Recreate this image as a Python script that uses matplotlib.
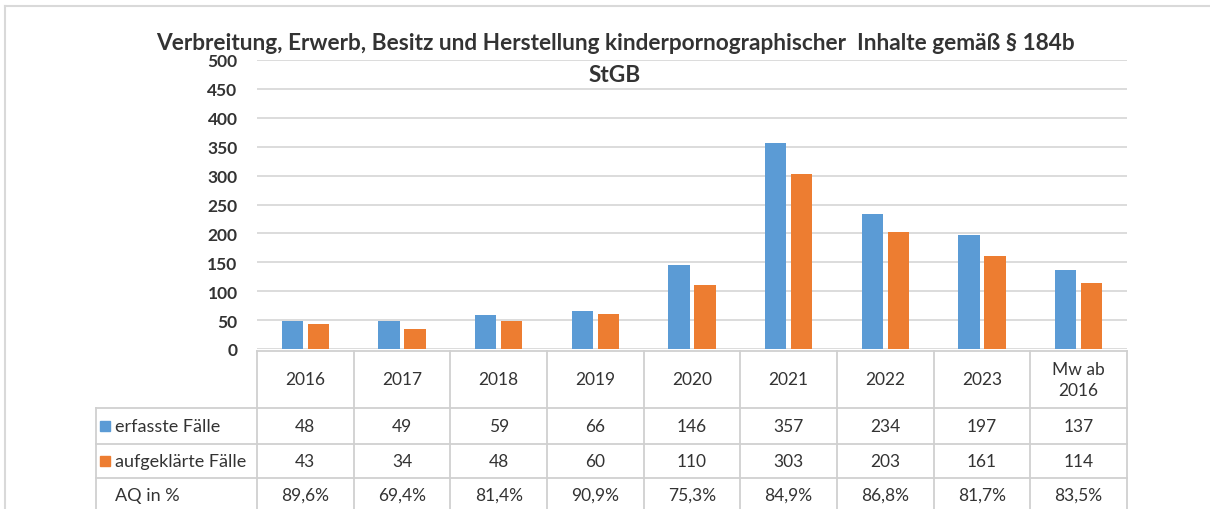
import matplotlib
matplotlib.use("Agg")
import matplotlib.pyplot as plt
from matplotlib.lines import Line2D
from matplotlib.patches import Rectangle

# data
kategorien = ["2016", "2017", "2018", "2019", "2020", "2021", "2022", "2023", "Mw ab\n2016"]
erfasst = [48, 49, 59, 66, 146, 357, 234, 197, 137]
aufgeklaert = [43, 34, 48, 60, 110, 303, 203, 161, 114]
aq = ["89,6%", "69,4%", "81,4%", "90,9%", "75,3%", "84,9%", "86,8%", "81,7%", "83,5%"]
serien = ["erfasste Fälle", "aufgeklärte Fälle"]
titel = ["Verbreitung, Erwerb, Besitz und Herstellung kinderpornographischer  Inhalte gemäß § 184b",
         "StGB"]

BLAU = "#5B9BD5"
ORANGE = "#ED7D31"
GRAU = "#D9D9D9"
TEXT = "#333333"

plt.rcParams["font.family"] = ["Lato", "DejaVu Sans"]

W, H = 1210, 510
fig = plt.figure(figsize=(W / 100, H / 100), dpi=100)

# outer frame of the excel chart
fig.add_artist(Line2D([5 / W, 1], [1 - 7 / H, 1 - 7 / H], color=GRAU, lw=1.5))
fig.add_artist(Line2D([5 / W, 5 / W], [0, 1 - 7 / H], color=GRAU, lw=1.5))

# main bar axes (pixel layout from the reference)
x0, x1 = 257, 1127
y0, y1 = 350, 61
ax = fig.add_axes([x0 / W, 1 - y0 / H, (x1 - x0) / W, (y0 - y1) / H])
n = len(kategorien)
xs = list(range(n))
bw = 0.22
ax.bar([x - 0.135 for x in xs], erfasst, bw, color=BLAU, zorder=3)
ax.bar([x + 0.135 for x in xs], aufgeklaert, bw, color=ORANGE, zorder=3)
ax.set_xlim(-0.5, n - 0.5)
ax.set_ylim(0, 500)
ax.set_yticks(range(0, 501, 50))
ax.set_xticks([])
ax.grid(axis="y", color=GRAU, lw=1.3)
ax.set_axisbelow(True)
for s in ax.spines.values():
    s.set_visible(False)
ax.tick_params(axis="y", length=0, pad=14, labelsize=12.5, labelcolor=TEXT)
for lab in ax.get_yticklabels():
    lab.set_fontweight("bold")

# title (two lines as in the excel chart)
fig.text(615 / W, 1 - 44 / H, titel[0], ha="center", va="center", fontsize=16.3,
         fontweight="bold", color=TEXT, zorder=5)
fig.text(615 / W, 1 - 75 / H, titel[1], ha="center", va="center", fontsize=16.3,
         fontweight="bold", color=TEXT, zorder=5)

# data table below, y in pixel units
t_top, t_bot = 352, 513
tab = fig.add_axes([x0 / W, 1 - t_bot / H, (x1 - x0) / W, (t_bot - t_top) / H])
tab.set_xlim(-0.5, n - 0.5)
tab.set_ylim(t_bot, t_top)
tab.axis("off")
px = (x1 - x0) / n
links = -0.5 - (x0 - 96) / px
zeilen = [352, 409, 445, 479, 513]
lk = dict(color="#D0D0D0", lw=1.3, clip_on=False)
tab.plot([-0.5, n - 0.5], [zeilen[0]] * 2, **lk)
for y in zeilen[1:]:
    tab.plot([links, n - 0.5], [y, y], **lk)
for i in range(n + 1):
    tab.plot([i - 0.5, i - 0.5], [zeilen[0], zeilen[-1]], **lk)
tab.plot([links, links], [zeilen[1], zeilen[-1]], **lk)

def mitte(k):
    return (zeilen[k] + zeilen[k + 1]) / 2

tk = dict(ha="center", va="center", fontsize=12.5, color=TEXT, clip_on=False)
for i in range(n):
    tab.text(i, mitte(0), kategorien[i], linespacing=1.4, **tk)
    tab.text(i, mitte(1), str(erfasst[i]), **tk)
    tab.text(i, mitte(2), str(aufgeklaert[i]), **tk)
    tab.text(i, mitte(3), aq[i], **tk)

q = 10 / px
for k, (name, farbe) in enumerate(zip(serien, [BLAU, ORANGE])):
    yc = mitte(k + 1)
    tab.add_patch(Rectangle((links + 4 / px, yc - 5), q, 10, color=farbe, clip_on=False))
    tab.text(links + 19 / px, yc, name, ha="left", va="center", fontsize=13,
             color=TEXT, clip_on=False)
tab.text(links + 19 / px, mitte(3), "AQ in %", ha="left", va="center", fontsize=13,
         color=TEXT, clip_on=False)

fig.savefig("out.png", dpi=100, facecolor="white")
